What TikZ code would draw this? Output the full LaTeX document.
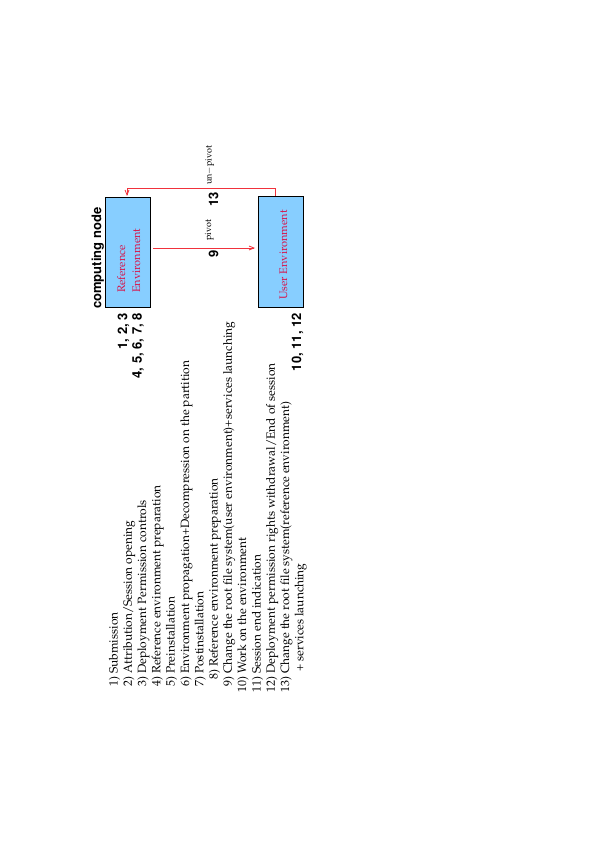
\documentclass[tikz,border=0pt]{standalone}
\usepackage[T1]{fontenc}
\usepackage{mathpazo}
\usepackage{helvet}
\usetikzlibrary{arrows.meta}

\definecolor{boxblue}{RGB}{135,206,255}
\definecolor{envred}{RGB}{215,20,75}
\definecolor{linkred}{RGB}{240,50,60}

\begin{document}
\begin{tikzpicture}[x=1pt,y=-1pt,
  envbox/.style={draw=black, line width=0.6pt, fill=boxblue, inner sep=0},
  envtext/.style={rotate=90, anchor=base west, text=envred,
                  font=\rmfamily\fontsize{11}{13}\selectfont, inner sep=0},
  tagnum/.style={rotate=90, font=\sffamily\bfseries\fontsize{13}{15}\selectfont, inner sep=0},
  smalllabel/.style={rotate=90, anchor=base west,
                     font=\rmfamily\fontsize{9}{11}\selectfont, inner sep=0},
  listline/.style={rotate=90, anchor=base west,
                   font=\rmfamily\fontsize{12}{14}\selectfont, inner sep=0},
  link/.style={draw=linkred, line width=0.8pt},
  linkarrow/.style={link, -{Straight Barb[length=5pt,width=4pt]}}
]
\useasboundingbox (0,0) rectangle (595,842);

% the two environments
\node[envbox, minimum width=45pt, minimum height=110pt] (ref)  at (127.5,252) {};
\node[envbox, minimum width=45pt, minimum height=111pt] (user) at (280.5,251.5) {};

\node[envtext] (refa) at (125,293) {Reference};
\node[envtext] (refb) at (140,293) {Environment};
\node[envtext] (usert) at (287,300) {User Environment};

\node[tagnum, anchor=base west] (cnode) at (101,309) {computing node};

% step numbers next to the boxes
\node[tagnum, anchor=base east] (s123) at (127,313) {1, 2, 3};
\node[tagnum, anchor=base east] (s4to8) at (141.5,313) {4, 5, 6, 7, 8};
\node[tagnum, anchor=base east] (s101112) at (301,313) {10, 11, 12};

% pivot / un-pivot transitions
\coordinate (pivs) at (153,248);
\coordinate (pive) at (255,248);
\draw[linkarrow] (pivs) -- (pive);

\coordinate (unps) at (275,196);
\coordinate (unpa) at (275,188);
\coordinate (unpb) at (127,188);
\coordinate (unpe) at (127,196);
\draw[linkarrow] (unps) -- (unpa) -- (unpb) -- (unpe);

\node[tagnum, anchor=base west] (n9) at (218,258) {9};
\node[smalllabel] (piv) at (211,241) {pivot};
\node[tagnum, anchor=base west] (n13) at (218,207) {13};
\node[smalllabel] (unpiv) at (211.5,185) {un$-$pivot};

% legend of the steps
\node[listline] (l1)  at (117.5,687) {1) Submission};
\node[listline] (l2)  at (131.8,687) {2) Attribution/Session opening};
\node[listline] (l3)  at (146.1,687) {3) Deployment Permission controls};
\node[listline] (l4)  at (160.4,687) {4) Reference environment preparation};
\node[listline] (l5)  at (174.7,687) {5) Preinstallation};
\node[listline] (l6)  at (189.0,687) {6) Environment propagation+Decompression on the partition};
\node[listline] (l7)  at (203.3,687) {7) Postinstallation};
\node[listline] (l8)  at (217.6,680) {8) Reference environment preparation};
\node[listline] (l9)  at (231.9,687) {9) Change the root file system(user environment)+services launching};
\node[listline] (l10) at (246.2,693) {10) Work on the environment};
\node[listline] (l11) at (260.5,693) {11) Session end indication};
\node[listline] (l12) at (274.8,693) {12) Deployment permission rights withdrawal/End of session};
\node[listline] (l13) at (289.1,693) {13) Change the root file system(reference environment)};
\node[listline] (l14) at (303.4,672) {+ services launching};
\end{tikzpicture}
\end{document}
